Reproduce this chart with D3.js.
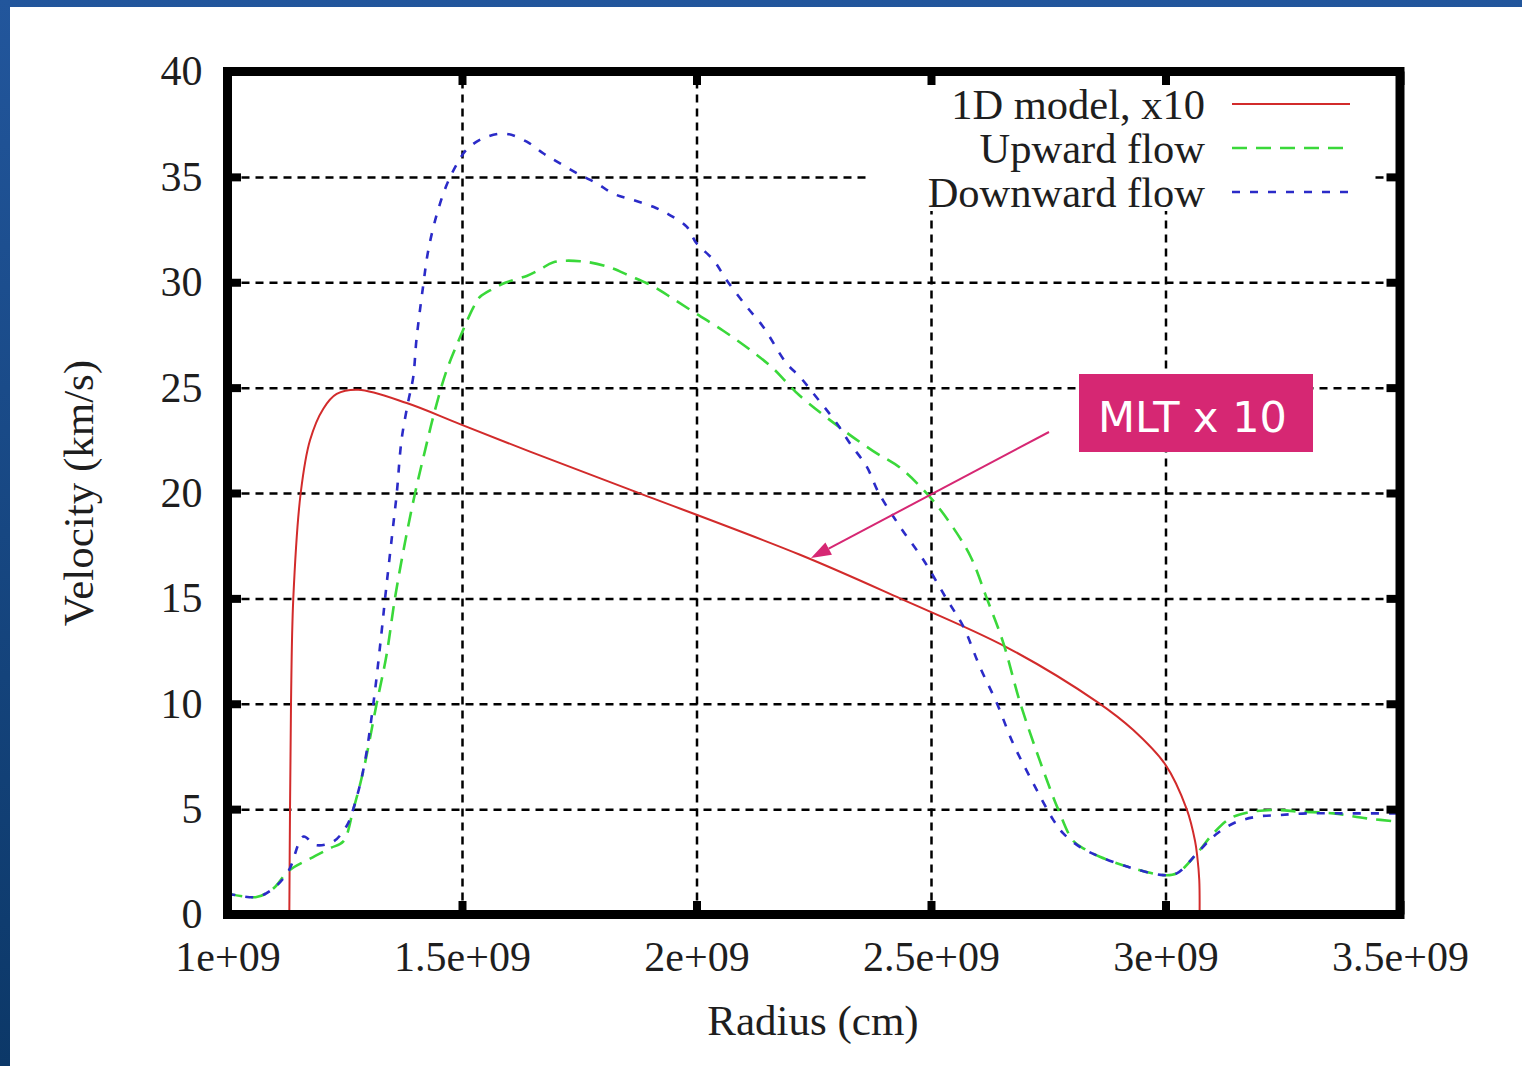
<!DOCTYPE html>
<html>
<head>
<meta charset="utf-8">
<script src="https://cdn.jsdelivr.net/npm/d3@7"></script>
<style>
	html, body { margin: 0; padding: 0; overflow: hidden; background: #1d4d8c; }
	svg { display: block; }
</style>
</head>
<body>
<svg id="chart" width="1522" height="1066"></svg>
<script>

// 1D model (x10), velocity in km/s against radius in cm
let modelR = [1.1318e9, 1.1333e9, 1.1354e9, 1.1403e9, 1.1561e9, 1.1759e9, 1.2043e9, 1.2328e9, 1.2789e9, 1.3821e9, 1.4957e9, 1.645e9, 1.865e9, 2.2207e9, 2.4339e9, 2.6614e9, 2.8533e9, 2.9313e9, 3.0004e9, 3.0452e9, 3.0629e9, 3.0678e9, 3.072e9, 3.0727e9]
let modelV = [0, 5, 10, 15, 20, 22.5, 24.0, 24.7, 24.9, 24.27, 23.27, 21.96, 20.1, 17.07, 15.0, 12.68, 10.1, 8.75, 7.09, 5.0, 3.5, 2.74, 1.64, 0]

// upward flow
let upR = [1.0e9, 1.062e9, 1.098e9, 1.130e9, 1.176e9, 1.219e9, 1.247e9, 1.268e9, 1.290e9, 1.318e9, 1.339e9, 1.357e9, 1.378e9, 1.400e9, 1.421e9, 1.442e9, 1.467e9, 1.496e9, 1.524e9, 1.538e9, 1.567e9, 1.595e9, 1.638e9, 1.666e9, 1.695e9, 1.752e9, 1.809e9, 1.858e9, 1.908e9, 1.951e9, 2.000e9, 2.057e9, 2.114e9, 2.164e9, 2.192e9, 2.221e9, 2.306e9, 2.376e9, 2.434e9, 2.498e9, 2.541e9, 2.584e9, 2.619e9, 2.654e9, 2.690e9, 2.732e9, 2.771e9, 2.803e9, 2.828e9, 2.860e9, 2.931e9, 2.995e9, 3.024e9, 3.067e9, 3.102e9, 3.138e9, 3.173e9, 3.230e9, 3.287e9, 3.358e9, 3.429e9, 3.5e9]
let upV = [1.0, 0.83, 1.24, 2.06, 2.65, 3.15, 3.47, 4.96, 6.86, 10.0, 12.3, 15.0, 17.6, 20.0, 22.0, 23.9, 25.8, 27.4, 28.8, 29.3, 29.7, 30.0, 30.3, 30.6, 30.95, 31.0, 30.75, 30.3, 29.8, 29.2, 28.5, 27.7, 26.8, 25.9, 25.25, 24.6, 23.1, 22.0, 21.2, 19.8, 18.56, 17.0, 15.0, 12.9, 10.05, 7.3, 5.0, 3.5, 3.1, 2.74, 2.19, 1.87, 1.95, 2.9, 3.85, 4.56, 4.83, 4.96, 4.88, 4.8, 4.56, 4.4]

// downward flow
let downR = [1.0e9, 1.062e9, 1.098e9, 1.130e9, 1.162e9, 1.187e9, 1.225e9, 1.254e9, 1.268e9, 1.290e9, 1.311e9, 1.329e9, 1.336e9, 1.354e9, 1.361e9, 1.371e9, 1.385e9, 1.396e9, 1.403e9, 1.417e9, 1.428e9, 1.446e9, 1.467e9, 1.489e9, 1.510e9, 1.545e9, 1.592e9, 1.638e9, 1.673e9, 1.709e9, 1.752e9, 1.787e9, 1.823e9, 1.865e9, 1.908e9, 1.943e9, 1.979e9, 2.000e9, 2.036e9, 2.064e9, 2.107e9, 2.142e9, 2.192e9, 2.221e9, 2.249e9, 2.299e9, 2.327e9, 2.363e9, 2.388e9, 2.434e9, 2.484e9, 2.533e9, 2.569e9, 2.604e9, 2.640e9, 2.675e9, 2.718e9, 2.761e9, 2.782e9, 2.818e9, 2.860e9, 2.931e9, 2.995e9, 3.024e9, 3.067e9, 3.102e9, 3.145e9, 3.194e9, 3.244e9, 3.301e9, 3.372e9, 3.5e9]
let downV = [1.0, 0.83, 1.24, 2.06, 3.7, 3.3, 3.45, 4.2, 5.0, 6.9, 10.0, 13.5, 15.0, 18.6, 20.0, 22.5, 24.3, 25.5, 27.3, 29.8, 31.5, 33.2, 34.6, 35.6, 36.3, 36.83, 37.05, 36.67, 36.12, 35.64, 35.09, 34.7, 34.2, 33.9, 33.58, 33.19, 32.64, 31.85, 31.06, 30.11, 28.84, 27.89, 26.15, 25.5, 24.73, 23.31, 22.36, 21.25, 20.03, 18.4, 16.82, 14.98, 13.66, 11.76, 10.05, 8.12, 6.23, 4.48, 3.85, 3.2, 2.74, 2.19, 1.87, 1.95, 2.9, 3.7, 4.33, 4.64, 4.72, 4.8, 4.8, 4.8]

let xTicks = [1e9, 1.5e9, 2e9, 2.5e9, 3e9, 3.5e9]
let xTickLabels = ['1e+09', '1.5e+09', '2e+09', '2.5e+09', '3e+09', '3.5e+09']
let yTicks = [0, 5, 10, 15, 20, 25, 30, 35, 40]

let seriesNames = ['1D model, x10', 'Upward flow', 'Downward flow']
let seriesColors = ['#d22b2b', '#3ad83a', '#2b2bc8']
let seriesDash = ['none', '15,9', '8,10']

let noteText = 'MLT x 10'

let svg = d3.select('#chart')

// blue slide background, white panel
let defs = svg.append('defs')
let grad = defs.append('linearGradient').attr('id', 'bg').attr('x1', 0).attr('y1', 0).attr('x2', 0).attr('y2', 1)
grad.append('stop').attr('offset', '0%').attr('stop-color', '#22569c')
grad.append('stop').attr('offset', '100%').attr('stop-color', '#0c3868')
svg.append('rect').attr('width', 1522).attr('height', 1066).attr('fill', 'url(#bg)')
svg.append('rect').attr('x', 10).attr('y', 7).attr('width', 1512).attr('height', 1059).attr('fill', '#fff')

let pLeft = 227.5, pRight = 1400, pTop = 71.5, pBottom = 914.5
let x = d3.scaleLinear().domain([1e9, 3.5e9]).range([pLeft, pRight])
let y = d3.scaleLinear().domain([0, 40]).range([pBottom, pTop])

defs.append('clipPath').attr('id', 'plot')
	.append('rect').attr('x', pLeft + 4).attr('y', pTop + 4).attr('width', pRight - pLeft - 8).attr('height', pBottom - pTop - 8)

let serif = '"Liberation Serif", "DejaVu Serif", serif'
let ink = '#1e1e1e'

// grid
let grid = svg.append('g')
grid.append('g').attr('transform', `translate(0,${pBottom})`)
	.call(d3.axisBottom(x).tickValues(xTicks.slice(1, -1)).tickSize(-(pBottom - pTop)).tickFormat(''))
grid.append('g').attr('transform', `translate(${pLeft},0)`)
	.call(d3.axisLeft(y).tickValues(yTicks.slice(1, -1)).tickSize(-(pRight - pLeft)).tickFormat(''))
grid.selectAll('.domain').remove()
grid.selectAll('line').attr('stroke', '#000').attr('stroke-width', 2.5).attr('stroke-dasharray', '8,6')

// legend box covers the grid
svg.append('rect').attr('x', 866).attr('y', 76).attr('width', 506).attr('height', 135).attr('fill', '#fff')

// curves
let plot = svg.append('g').attr('clip-path', 'url(#plot)')
let line = d3.line().x(d => x(d[0])).y(d => y(d[1])).curve(d3.curveCatmullRom.alpha(0.5))
let series = [d3.zip(modelR, modelV), d3.zip(upR, upV), d3.zip(downR, downV)]
series.forEach(function(pts, i) {
	plot.append('path').datum(pts)
		.attr('d', line)
		.attr('fill', 'none')
		.attr('stroke', seriesColors[i])
		.attr('stroke-width', i == 0 ? 2 : 2.6)
		.attr('stroke-dasharray', seriesDash[i])
})

// frame and ticks
let tick = 13.5
let axes = svg.append('g')
let xAxis = axes.append('g').attr('transform', `translate(0,${pBottom})`)
	.call(d3.axisBottom(x).tickValues(xTicks).tickSizeInner(-tick).tickSizeOuter(0).tickPadding(27)
		.tickFormat((d, i) => xTickLabels[i]))
let yAxis = axes.append('g').attr('transform', `translate(${pLeft},0)`)
	.call(d3.axisLeft(y).tickValues(yTicks).tickSizeInner(-tick).tickSizeOuter(0).tickPadding(25))
axes.append('g').attr('transform', `translate(0,${pTop})`)
	.call(d3.axisTop(x).tickValues(xTicks).tickSizeInner(-tick).tickSizeOuter(0).tickFormat(''))
axes.append('g').attr('transform', `translate(${pRight},0)`)
	.call(d3.axisRight(y).tickValues(yTicks).tickSizeInner(-tick).tickSizeOuter(0).tickFormat(''))
axes.selectAll('.domain').remove()
axes.selectAll('.tick line').attr('stroke', '#000').attr('stroke-width', 8)
axes.selectAll('text').attr('font-family', serif).attr('font-size', 42).attr('fill', ink)
yAxis.selectAll('text').attr('dy', '0.32em')

svg.append('rect').attr('x', pLeft).attr('y', pTop).attr('width', pRight - pLeft).attr('height', pBottom - pTop)
	.attr('fill', 'none').attr('stroke', '#000').attr('stroke-width', 9)

// axis titles
svg.append('text').attr('x', 813).attr('y', 1035).attr('text-anchor', 'middle')
	.attr('font-family', serif).attr('font-size', 43).attr('fill', ink).text('Radius (cm)')
svg.append('text').attr('transform', 'translate(93,493) rotate(-90)').attr('text-anchor', 'middle')
	.attr('font-family', serif).attr('font-size', 43).attr('fill', ink).text('Velocity (km/s)')

// legend
let legend = svg.append('g')
seriesNames.forEach(function(name, i) {
	let ly = 104 + i * 44
	legend.append('text').attr('x', 1205).attr('y', ly + 15).attr('text-anchor', 'end')
		.attr('font-family', serif).attr('font-size', 42.5).attr('fill', ink).text(name)
	legend.append('line').attr('x1', 1232).attr('x2', 1350).attr('y1', ly).attr('y2', ly)
		.attr('stroke', seriesColors[i]).attr('stroke-width', i == 0 ? 2 : 2.6)
		.attr('stroke-dasharray', seriesDash[i])
})

// annotation
let magenta = '#d62773'
let note = svg.append('g')
note.append('rect').attr('x', 1079).attr('y', 374).attr('width', 234).attr('height', 78).attr('fill', magenta)
note.append('text').attr('x', 1098).attr('y', 432)
	.attr('font-family', '"DejaVu Sans", Verdana, sans-serif').attr('font-size', 43).attr('fill', '#fff').text(noteText)

let a0 = [1049, 432], a1 = [811, 558]
let ang = Math.atan2(a1[1] - a0[1], a1[0] - a0[0])
let hl = 20, hw = 7
let base = [a1[0] - hl * Math.cos(ang), a1[1] - hl * Math.sin(ang)]
note.append('line').attr('x1', a0[0]).attr('y1', a0[1]).attr('x2', base[0]).attr('y2', base[1])
	.attr('stroke', magenta).attr('stroke-width', 2)
note.append('path')
	.attr('d', `M${a1[0]},${a1[1]}L${base[0] + hw * Math.sin(ang)},${base[1] - hw * Math.cos(ang)}L${base[0] - hw * Math.sin(ang)},${base[1] + hw * Math.cos(ang)}Z`)
	.attr('fill', magenta)

</script>
</body>
</html>
